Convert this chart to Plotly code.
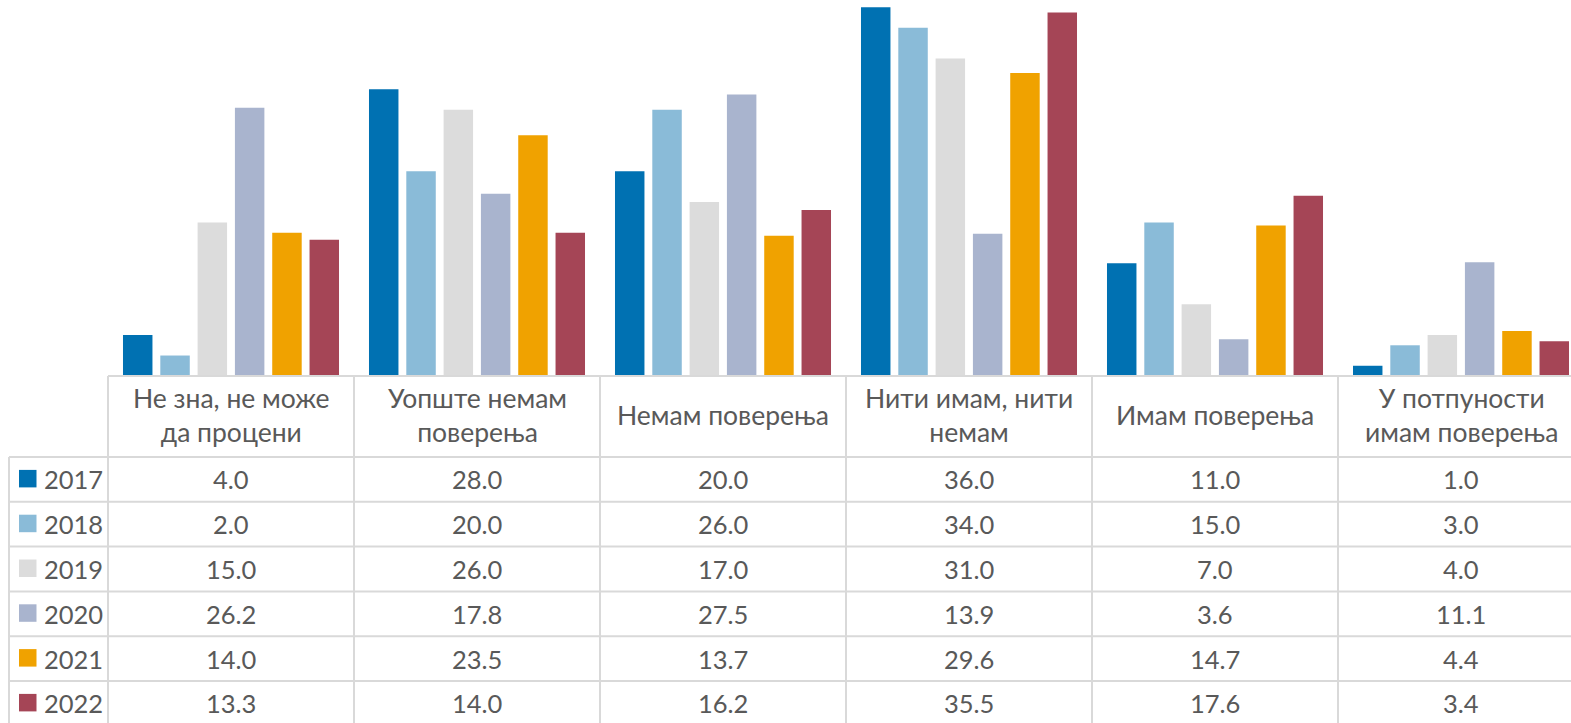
import plotly.graph_objects as go

# Survey categories (Serbian Cyrillic) and yearly shares, in percent
categories = [
    "Не зна, не може<br>да процени",
    "Уопште немам<br>поверења",
    "Немам поверења",
    "Нити имам, нити<br>немам",
    "Имам поверења",
    "У потпуности<br>имам поверења",
]
years = ["2017", "2018", "2019", "2020", "2021", "2022"]
values_2017 = [4.0, 28.0, 20.0, 36.0, 11.0, 1.0]
values_2018 = [2.0, 20.0, 26.0, 34.0, 15.0, 3.0]
values_2019 = [15.0, 26.0, 17.0, 31.0, 7.0, 4.0]
values_2020 = [26.2, 17.8, 27.5, 13.9, 3.6, 11.1]
values_2021 = [14.0, 23.5, 13.7, 29.6, 14.7, 4.4]
values_2022 = [13.3, 14.0, 16.2, 35.5, 17.6, 3.4]
series = [values_2017, values_2018, values_2019, values_2020, values_2021, values_2022]
colors = ["#0071B2", "#8ABBD8", "#DCDCDC", "#A9B4CE", "#F0A200", "#A54556"]

W, H = 1571, 723
FONT = "Lato, Noto Sans, sans-serif"
TEXT = "#595959"
GRID = "#D9D9D9"
HEAD_SIZE = 26.5
CELL_SIZE = 25.5

# Layout geometry in pixels
base_px = 376          # bar baseline / table top
col_w = 246            # width of one category column
first_col = 108        # left edge of first category column
header_bottom = 457    # bottom of header row
row_h = 44.8
left_edge = 9
px_per_unit = 10.24


def py(px):
    return 1 - px / H


def px_to_x(px):
    return (px - first_col) / col_w - 0.5


x_idx = list(range(len(categories)))

fig = go.Figure()
for yr, vals, col in zip(years, series, colors):
    fig.add_trace(go.Bar(
        x=x_idx, y=vals, name=yr, marker=dict(color=col, line=dict(width=0)),
        hoverinfo="skip", showlegend=False,
    ))

shapes = []
line = dict(color=GRID, width=2)
# horizontal rules
shapes.append(dict(type="line", xref="paper", yref="paper",
                   x0=first_col / W, x1=1, y0=py(base_px), y1=py(base_px), line=line))
for r in range(len(years)):
    yy = header_bottom + r * row_h
    shapes.append(dict(type="line", xref="paper", yref="paper",
                       x0=left_edge / W, x1=1, y0=py(yy), y1=py(yy), line=line))
# vertical rules
shapes.append(dict(type="line", xref="paper", yref="paper",
                   x0=left_edge / W, x1=left_edge / W, y0=py(header_bottom), y1=0, line=line))
for k in range(len(categories)):
    shapes.append(dict(type="line", xref="x", yref="paper",
                       x0=k - 0.5, x1=k - 0.5, y0=py(base_px), y1=0, line=line))

annotations = []
# header labels
for k, cat in enumerate(categories):
    annotations.append(dict(
        x=k, y=py((base_px + header_bottom) / 2 - 1.5), xref="x", yref="paper",
        text=cat, showarrow=False, xanchor="center", yanchor="middle",
        font=dict(family=FONT, size=HEAD_SIZE, color=TEXT),
    ))

# series rows: legend key, year label and values
for r, (yr, vals, col) in enumerate(zip(years, series, colors)):
    cy = header_bottom + row_h * (r + 0.5)
    shapes.append(dict(type="rect", xref="paper", yref="paper",
                       x0=19 / W, x1=36.5 / W, y0=py(cy - 9.5), y1=py(cy + 8),
                       fillcolor=col, line=dict(width=0)))
    annotations.append(dict(
        x=42 / W, y=py(cy), xref="paper", yref="paper", text=yr,
        showarrow=False, xanchor="left", yanchor="middle",
        font=dict(family=FONT, size=CELL_SIZE, color=TEXT),
    ))
    for k, v in enumerate(vals):
        annotations.append(dict(
            x=k, y=py(cy), xref="x", yref="paper", text=f"{v:.1f}",
            showarrow=False, xanchor="center", yanchor="middle",
            font=dict(family=FONT, size=CELL_SIZE, color=TEXT),
        ))

fig.update_layout(
    width=W, height=H,
    margin=dict(l=0, r=0, t=0, b=0),
    paper_bgcolor="white", plot_bgcolor="white",
    barmode="group", bargap=0.09, bargroupgap=0.21,
    xaxis=dict(range=[px_to_x(0), px_to_x(W)], showticklabels=False,
               showgrid=False, zeroline=False, showline=False, ticks=""),
    yaxis=dict(domain=[py(base_px), 1], range=[0, base_px / px_per_unit],
               showticklabels=False, showgrid=False, zeroline=False, showline=False),
    shapes=shapes, annotations=annotations,
)

fig.write_html("out.html")
